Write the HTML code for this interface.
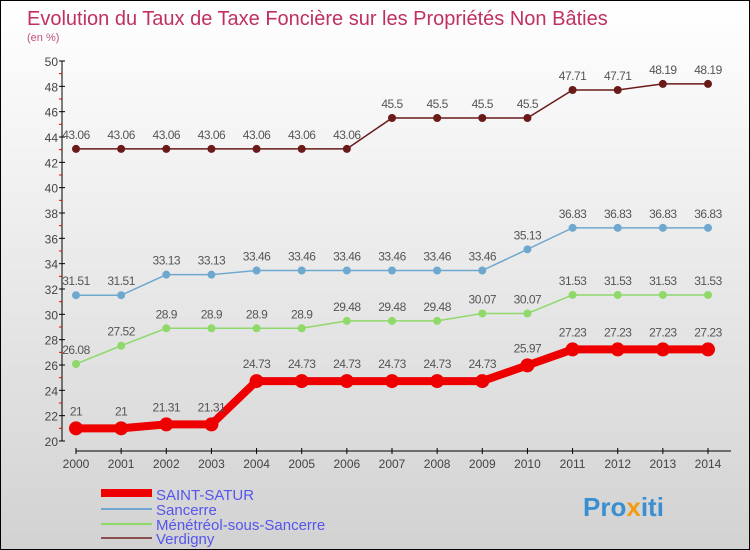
<!DOCTYPE html>
<html><head><meta charset="utf-8"><style>
body{margin:0}
#c{width:748px;height:548px;border:1px solid #000;background:linear-gradient(#fff,#f2f2f2 30%,#d2d2d2);position:relative;overflow:hidden;font-family:"Liberation Sans",sans-serif}
</style></head><body>
<div id="c">
<svg id="s" width="748" height="548" style="position:absolute;left:0;top:0">
<text x="26" y="24" font-size="20" fill="#c03060">Evolution du Taux de Taxe Foncière sur les Propriétés Non Bâties</text>
<text x="26" y="40" font-size="11" fill="#c05080">(en %)</text>
<g id="axes"></g><g id="series"></g>
<g>
<line x1="100" y1="492" x2="151" y2="492" stroke="#e00" stroke-width="8"/>
<text x="155" y="499" font-size="15" fill="#5555ee">SAINT-SATUR</text>
<line x1="100" y1="508" x2="151" y2="508" stroke="#6fa8cf" stroke-width="2"/>
<text x="155" y="514" font-size="15" fill="#5555ee">Sancerre</text>
<line x1="100" y1="523" x2="151" y2="523" stroke="#8fd86a" stroke-width="2"/>
<text x="155" y="529" font-size="15" fill="#5555ee">Ménétréol-sous-Sancerre</text>
<line x1="100" y1="537" x2="151" y2="537" stroke="#8a5050" stroke-width="2"/>
<text x="155" y="543" font-size="15" fill="#5555ee">Verdigny</text>
</g>
<text x="582" y="515" font-size="26" font-weight="bold" fill="#3b8fd0">Pro<tspan fill="#f39c12">x</tspan>iti</text>
</svg></div>
<script>
const years=[2000,2001,2002,2003,2004,2005,2006,2007,2008,2009,2010,2011,2012,2013,2014];
const saintSatur=[21,21,21.31,21.31,24.73,24.73,24.73,24.73,24.73,24.73,25.97,27.23,27.23,27.23,27.23];
const sancerre=[31.51,31.51,33.13,33.13,33.46,33.46,33.46,33.46,33.46,33.46,35.13,36.83,36.83,36.83,36.83];
const menetreol=[26.08,27.52,28.9,28.9,28.9,28.9,29.48,29.48,29.48,30.07,30.07,31.53,31.53,31.53,31.53];
const verdigny=[43.06,43.06,43.06,43.06,43.06,43.06,43.06,45.5,45.5,45.5,45.5,47.71,47.71,48.19,48.19];
const yTicks=[20,22,24,26,28,30,32,34,36,38,40,42,44,46,48,50];
const NS="http://www.w3.org/2000/svg";
const X=i=>75+i*(707-75)/(years.length-1);
const Y=v=>440-(v-20)*(380/30);
function mk(p,t,a){const e=document.createElementNS(NS,t);for(const k in a)e.setAttribute(k,a[k]);p.appendChild(e);return e;}
const ax=document.getElementById('axes');
mk(ax,'line',{x1:61,y1:60,x2:61,y2:440,stroke:'#000'});
mk(ax,'line',{x1:75,y1:450,x2:730,y2:450,stroke:'#000'});
const yMax=yTicks[yTicks.length-1];
yTicks.forEach(v=>{
 mk(ax,'line',{x1:58,y1:Y(v),x2:64,y2:Y(v),stroke:'#000'});
 if(v<yMax) mk(ax,'line',{x1:58,y1:Y(v+1),x2:61,y2:Y(v+1),stroke:'#e00'});
 const t=mk(ax,'text',{x:57,y:Y(v)+5,'font-size':12,'text-anchor':'end',fill:'#444'});t.textContent=v;
 
 
});
years.forEach((y,i)=>{
 mk(ax,'line',{x1:X(i),y1:447,x2:X(i),y2:453,stroke:'#000'});
 const t=mk(ax,'text',{x:X(i),y:467,'font-size':12,'text-anchor':'middle',fill:'#444'});t.textContent=y;
 
 
});
const sg=document.getElementById('series');
function draw(vals,color,w,r,name){
 const g=mk(sg,'g',{});
 
 
 mk(g,'polyline',{points:vals.map((v,i)=>X(i)+','+Y(v)).join(' '),fill:'none',stroke:color,'stroke-width':w});
 vals.forEach((v,i)=>{
  const c=mk(g,'circle',{cx:X(i),cy:Y(v),r:r,fill:color});
  
  
  const t=mk(g,'text',{x:X(i),y:Y(v)-(r+6),'font-size':12,'text-anchor':'middle',fill:'#555','letter-spacing':'-0.5'});
  t.textContent=v;
  
  
 });
}
draw(verdigny,'#6b1a1a',1.5,4,'verdigny-series');
draw(sancerre,'#6fa8cf',1.5,4,'sancerre-series');
draw(menetreol,'#8fd86a',1.5,4,'menetreol-series');
draw(saintSatur,'#ee0000',8,7,'saint-satur-series');
</script></body></html>
